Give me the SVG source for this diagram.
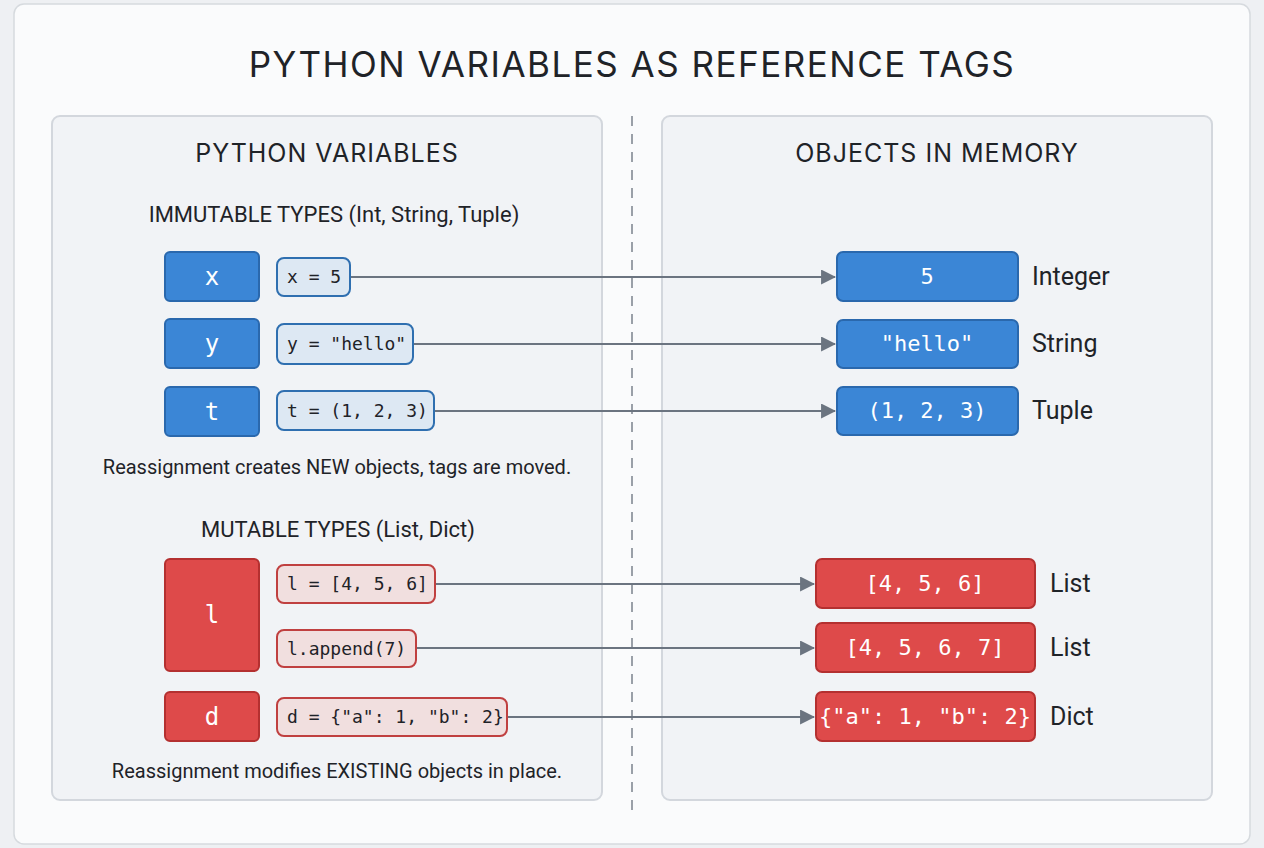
<svg xmlns="http://www.w3.org/2000/svg" width="1264" height="848" viewBox="0 0 1264 848">
<style>
.t{font-family:Inter,"Open Sans",sans-serif;fill:#1f2328;text-anchor:middle}
.s{font-family:Roboto,"Liberation Sans",sans-serif;fill:#1f2328}
.m{font-family:"DejaVu Sans Mono","Liberation Mono",monospace;font-size:18px;fill:#1f2328}
.mw{font-family:"DejaVu Sans Mono","Liberation Mono",monospace;font-size:22px;fill:#fff;text-anchor:middle}
.vb{fill:#3b86d6;stroke:#2a68ad;stroke-width:2}
.vr{fill:#de4a4a;stroke:#b43030;stroke-width:2}
.cb{fill:#dde8f3;stroke:#2f6fb0;stroke-width:2}
.cr{fill:#f1dfdf;stroke:#c04040;stroke-width:2}
.vl{font-family:"DejaVu Sans Mono","Liberation Mono",monospace;font-size:24px;fill:#fff;text-anchor:middle}
.c{stroke:#6b7480;stroke-width:2;fill:none;marker-end:url(#a)}
.p{fill:#f1f3f6;stroke:#d3d7dd;stroke-width:2}
</style>
<defs><marker id="a" viewBox="0 0 14 14" refX="13" refY="7" markerWidth="15" markerHeight="15" markerUnits="userSpaceOnUse" orient="auto"><path d="M0 0L14 7L0 14z" fill="#6b7480"/></marker></defs>
<rect width="1264" height="848" fill="#eef0f3"/>
<rect x="14" y="4" width="1236" height="840" rx="10" fill="#fafbfc" stroke="#d6dade" stroke-width="1.5"/>
<text class="t" x="632" y="77" font-size="35" font-weight="400" letter-spacing="1.5">PYTHON VARIABLES AS REFERENCE TAGS</text>
<rect class="p" x="52" y="116" width="550" height="684" rx="8"/>
<rect class="p" x="662" y="116" width="550" height="684" rx="8"/>
<line x1="632" y1="116" x2="632" y2="810" stroke="#9aa0a8" stroke-width="2" stroke-dasharray="10 8"/>
<text class="t" x="327" y="162" font-size="25" letter-spacing="1">PYTHON VARIABLES</text>
<text class="t" x="937" y="162" font-size="25" letter-spacing="1">OBJECTS IN MEMORY</text>
<text class="s" x="334" y="222" font-size="22" text-anchor="middle">IMMUTABLE TYPES (Int, String, Tuple)</text>
<text class="s" x="337" y="474" font-size="20" text-anchor="middle">Reassignment creates NEW objects, tags are moved.</text>
<text class="s" x="338" y="537" font-size="22" text-anchor="middle">MUTABLE TYPES (List, Dict)</text>
<text class="s" x="337" y="778" font-size="20" text-anchor="middle">Reassignment modifies EXISTING objects in place.</text>
<g id="connectors">
<line class="c" x1="350" y1="277" x2="835" y2="277"/>
<line class="c" x1="413" y1="344" x2="835" y2="344"/>
<line class="c" x1="434" y1="411" x2="835" y2="411"/>
<line class="c" x1="435" y1="584" x2="814" y2="584"/>
<line class="c" x1="416" y1="648" x2="814" y2="648"/>
<line class="c" x1="507" y1="717" x2="814" y2="717"/>
</g>
<g id="var-x"><rect class="vb" x="165" y="252" width="94" height="49" rx="5"/><text class="vl" x="212" y="285">x</text></g>
<g id="var-y"><rect class="vb" x="165" y="319" width="94" height="49" rx="5"/><text class="vl" x="212" y="352">y</text></g>
<g id="var-t"><rect class="vb" x="165" y="387" width="94" height="49" rx="5"/><text class="vl" x="212" y="420">t</text></g>
<g id="var-l"><rect class="vr" x="165" y="559" width="94" height="112" rx="5"/><text class="vl" x="212" y="623">l</text></g>
<g id="var-d"><rect class="vr" x="165" y="692" width="94" height="49" rx="5"/><text class="vl" x="212" y="725">d</text></g>
<g id="code-x"><rect class="cb" x="277" y="258" width="73" height="38" rx="7"/><text class="m" x="287" y="283">x = 5</text></g>
<g id="code-y"><rect class="cb" x="277" y="324" width="136" height="40" rx="7"/><text class="m" x="287" y="350">y = "hello"</text></g>
<g id="code-t"><rect class="cb" x="277" y="391" width="157" height="39" rx="7"/><text class="m" x="287" y="417">t = (1, 2, 3)</text></g>
<g id="code-l"><rect class="cr" x="277" y="565" width="158" height="38" rx="7"/><text class="m" x="287" y="590">l = [4, 5, 6]</text></g>
<g id="code-append"><rect class="cr" x="277" y="630" width="139" height="37" rx="7"/><text class="m" x="287" y="655">l.append(7)</text></g>
<g id="code-d"><rect class="cr" x="277" y="698" width="230" height="38" rx="7"/><text class="m" x="287" y="723">d = {"a": 1, "b": 2}</text></g>
<g id="obj-5"><rect class="vb" x="837" y="252" width="181" height="49" rx="6"/><text class="mw" x="927" y="284">5</text><text class="s" x="1032" y="285" font-size="25">Integer</text></g>
<g id="obj-hello"><rect class="vb" x="837" y="320" width="181" height="48" rx="6"/><text class="mw" x="927" y="351">"hello"</text><text class="s" x="1032" y="352" font-size="25">String</text></g>
<g id="obj-tuple"><rect class="vb" x="837" y="387" width="181" height="48" rx="6"/><text class="mw" x="927" y="418">(1, 2, 3)</text><text class="s" x="1032" y="419" font-size="25">Tuple</text></g>
<g id="obj-list1"><rect class="vr" x="816" y="559" width="219" height="49" rx="6"/><text class="mw" x="925" y="591">[4, 5, 6]</text><text class="s" x="1050" y="592" font-size="25">List</text></g>
<g id="obj-list2"><rect class="vr" x="816" y="623" width="219" height="49" rx="6"/><text class="mw" x="925" y="655">[4, 5, 6, 7]</text><text class="s" x="1050" y="656" font-size="25">List</text></g>
<g id="obj-dict"><rect class="vr" x="816" y="692" width="219" height="49" rx="6"/><text class="mw" x="925" y="724" font-size="20">{"a": 1, "b": 2}</text><text class="s" x="1050" y="725" font-size="25">Dict</text></g>
</svg>
